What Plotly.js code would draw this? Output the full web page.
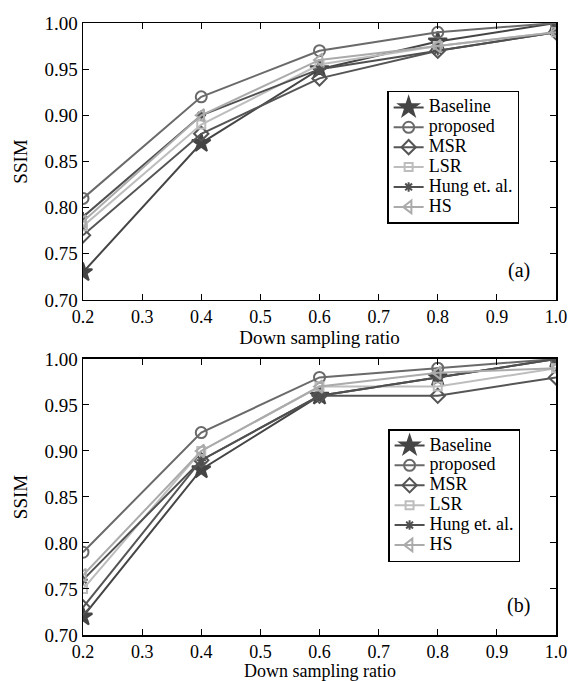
<!DOCTYPE html>
<html><head><meta charset="utf-8">
<script src="https://cdn.plot.ly/plotly-3.0.1.min.js"></script>
<style>html,body{margin:0;padding:0;background:#fff}</style>
</head><body><div id="chart" style="width:571px;height:681px"></div>
<script>
const ratios = [0.2, 0.4, 0.6, 0.8, 1.0];
const seriesNames = ['Baseline', 'proposed', 'MSR', 'LSR', 'Hung et. al.', 'HS'];
// Panel (a)
const a_baseline = [0.73, 0.87, 0.95, 0.98, 1.00];
const a_proposed = [0.81, 0.92, 0.97, 0.99, 1.00];
const a_msr      = [0.77, 0.88, 0.94, 0.97, 0.99];
const a_lsr      = [0.78, 0.89, 0.955, 0.975, 0.99];
const a_hung     = [0.79, 0.90, 0.95, 0.97, 0.99];
const a_hs       = [0.785, 0.90, 0.96, 0.975, 0.99];
// Panel (b)
const b_baseline = [0.72, 0.88, 0.96, 0.98, 1.00];
const b_proposed = [0.79, 0.92, 0.98, 0.99, 1.00];
const b_msr      = [0.73, 0.89, 0.96, 0.96, 0.98];
const b_lsr      = [0.75, 0.90, 0.97, 0.97, 0.99];
const b_hung     = [0.76, 0.89, 0.96, 0.98, 1.00];
const b_hs       = [0.765, 0.90, 0.97, 0.985, 0.99];
const xTicks = [0.2, 0.3, 0.4, 0.5, 0.6, 0.7, 0.8, 0.9, 1.0];
const yTicks = [0.70, 0.75, 0.80, 0.85, 0.90, 0.95, 1.00];
const xTitle = 'Down sampling ratio';

const fontF = 'Liberation Serif';
const styles = [
  {color:'#454545', symbol:'star', size:14},
  {color:'#6a6a6a', symbol:'circle-open', size:11},
  {color:'#555555', symbol:'diamond-open', size:11},
  {color:'#bdbdbd', symbol:'square-open', size:8},
  {color:'#505050', symbol:'asterisk-open', size:8},
  {color:'#ababab', symbol:'triangle-left-open', size:11}
];
const aData = [a_baseline, a_proposed, a_msr, a_lsr, a_hung, a_hs];
const bData = [b_baseline, b_proposed, b_msr, b_lsr, b_hung, b_hs];
const traces = [];
function add(data, xa, ya, leg){
  data.forEach((ys, i) => {
    const s = styles[i];
    traces.push({x: ratios, y: ys, xaxis: xa, yaxis: ya, legend: leg,
      name: '<span style="font-size:18px;font-family:Liberation Serif">' + seriesNames[i] + '</span>',
      type:'scatter', mode:'lines+markers',
      line:{color:s.color, width:2},
      marker:{symbol:s.symbol, size:s.size, color:s.color, line:{color:s.color, width:2}}});
  });
}
add(aData, 'x', 'y', 'legend');
add(bData, 'x2', 'y2', 'legend2');

const axX = (anchor, title) => ({anchor, range:[0.2,1.0], tickvals:xTicks, ticktext:xTicks.map(v=>v.toFixed(1)),
  ticks:'inside', ticklen:6, tickcolor:'#000', mirror:'ticks', showline:true, linecolor:'#000', linewidth:1.5,
  showgrid:false, zeroline:false, tickfont:{family:fontF, size:18, color:'#000'},
  title:{text:title, font:{family:fontF, size:19, color:'#000'}, standoff:3}});
const axY = (anchor, domain) => ({anchor, domain, range:[0.70,1.00], tickvals:yTicks, ticktext:yTicks.map(v=>v.toFixed(2)),
  ticks:'inside', ticklen:6, tickcolor:'#000', mirror:'ticks', showline:true, linecolor:'#000', linewidth:1.5,
  showgrid:false, zeroline:false, tickfont:{family:fontF, size:19, color:'#000'},
  title:{text:'SSIM', font:{family:fontF, size:19, color:'#000'}, standoff:12}});
const legStyle = (x, y) => ({x, y, xanchor:'left', yanchor:'top', bgcolor:'#fff', bordercolor:'#000', borderwidth:1.5,
  font:{family:fontF, size:13, color:'#000'}, tracegroupgap:0, itemwidth:30});

const layout = {
  width:571, height:681, margin:{l:83, r:15, t:23, b:46},
  paper_bgcolor:'#fff', plot_bgcolor:'#fff', showlegend:true,
  xaxis: axX('y', xTitle), yaxis: axY('x', [0.5474, 1]),
  xaxis2: axX('y2', ''), yaxis2: axY('x2', [0, 0.451]),
  legend: legStyle(0.643, 0.889), legend2: legStyle(0.645, 0.3366),
  annotations:[
    {text:'(a)', xref:'x', yref:'y', x:0.96, y:0.717, xanchor:'right', yanchor:'bottom', showarrow:false, font:{family:fontF, size:20, color:'#000'}},
    {text:'(b)', xref:'x2', yref:'y2', x:0.96, y:0.717, xanchor:'right', yanchor:'bottom', showarrow:false, font:{family:fontF, size:20, color:'#000'}},
    {text:xTitle, xref:'x2 domain', yref:'paper', x:0.5, y:-0.039, xanchor:'center', yanchor:'top', showarrow:false, font:{family:fontF, size:18, color:'#000'}}
  ]
};
Plotly.newPlot('chart', traces, layout, {displayModeBar:false, staticPlot:true});
</script></body></html>
